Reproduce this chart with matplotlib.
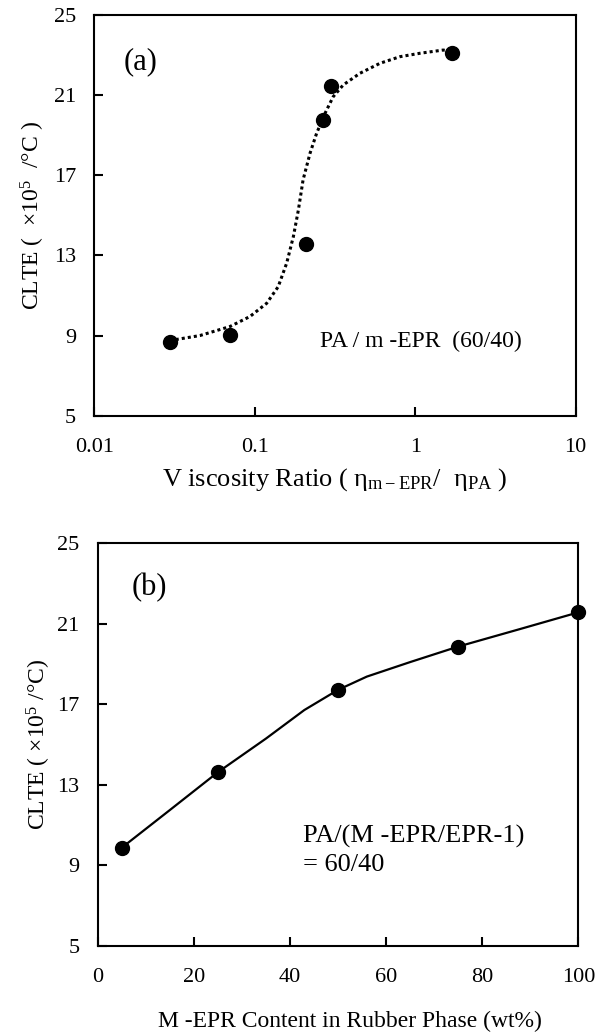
import matplotlib
matplotlib.use("Agg")
import matplotlib.pyplot as plt

plt.rcParams['font.family'] = ['Liberation Serif', 'DejaVu Serif']
plt.rcParams['mathtext.fontset'] = 'custom'
plt.rcParams['mathtext.rm'] = 'Liberation Serif'
plt.rcParams['mathtext.it'] = 'Liberation Serif:italic'

# (a) CLTE vs viscosity ratio
ratio_pts = [0.0295, 0.070, 0.210, 0.267, 0.299, 1.69]
clte_a_pts = [8.7, 9.05, 13.57, 19.76, 21.47, 23.1]
# dotted guide curve
ratio_curve = [0.0295, 0.0455, 0.070, 0.0933, 0.1186, 0.140, 0.158, 0.174,
               0.187, 0.200, 0.221, 0.243, 0.274, 0.308, 0.356, 0.452,
               0.603, 0.804, 1.07, 1.49, 1.69]
clte_a_curve = [8.75, 9.0, 9.45, 9.95, 10.61, 11.44, 12.61, 13.94,
                15.27, 16.77, 18.10, 19.10, 20.09, 20.92, 21.51, 22.09,
                22.59, 22.92, 23.09, 23.25, 23.2]

# (b) CLTE vs M-EPR content in rubber phase
content_pts = [5, 25, 50, 75, 100]
clte_b_pts = [9.88, 13.63, 17.72, 19.87, 21.57]
content_curve = [5, 15, 25, 35, 43, 50, 56, 65, 75, 88, 100]
clte_b_curve = [9.88, 11.75, 13.63, 15.3, 16.72, 17.72, 18.38, 19.1, 19.87, 20.75, 21.57]

y_ticks = [5, 9, 13, 17, 21, 25]

fig = plt.figure(figsize=(6.03, 10.35), dpi=100)
ax1 = fig.add_axes([94.3 / 603, 1 - 415.7 / 1035, 481.4 / 603, 400.7 / 1035])
ax2 = fig.add_axes([97.7 / 603, 1 - 946 / 1035, 480.6 / 603, 402.7 / 1035])


def style(ax):
    for s in ax.spines.values():
        s.set_linewidth(1.5)
    ax.tick_params(direction='in', length=6.5, width=1.5, labelsize=16,
                   top=False, right=False)
    ax.tick_params(axis='y', pad=13)
    ax.tick_params(axis='x', pad=16)
    ax.tick_params(which='minor', length=0)
    ax.set_ylim(5, 25)
    ax.set_yticks(y_ticks)


# panel (a)
ax1.plot(ratio_curve, clte_a_curve, color='black', linestyle=(0, (1, 1)), lw=2.2)
ax1.plot(ratio_pts, clte_a_pts, 'o', color='black', markersize=10, clip_on=False)
ax1.set_xscale('log')
ax1.set_xlim(0.01, 10)
ax1.set_xticks([0.01, 0.1, 1, 10])
ax1.set_xticklabels(['0.01', '0.1', '1', '10'])
style(ax1)
ax1.set_ylabel('CLTE (  ×10$^5$  /°C )', fontsize=17, labelpad=5)
ax1.set_xlabel('V iscosity Ratio ( η$_{\\mathrm{m-EPR}}$/  η$_{\\mathrm{PA}}$ )',
               fontsize=19, labelpad=7)
ax1.text(0.097, 0.883, '(a)', transform=ax1.transAxes, fontsize=22,
         ha='center', va='center')
ax1.text(0.469, 0.185, 'PA / m -EPR  (60/40)', transform=ax1.transAxes,
         fontsize=17, ha='left', va='center')

# panel (b)
ax2.plot(content_curve, clte_b_curve, color='black', lw=1.6)
ax2.plot(content_pts, clte_b_pts, 'o', color='black', markersize=10, clip_on=False)
ax2.set_xlim(0, 100)
ax2.set_xticks([0, 20, 40, 60, 80, 100])
style(ax2)
ax2.set_ylabel('CLTE ( ×10$^5$ /°C)', fontsize=17, labelpad=3)
ax2.set_xlabel('M -EPR Content in Rubber Phase (wt%)', fontsize=17)
ax2.xaxis.set_label_coords(0.525, -0.16)
ax2.text(0.107, 0.891, '(b)', transform=ax2.transAxes, fontsize=22,
         ha='center', va='center')
ax2.text(0.428, 0.271, 'PA/(M -EPR/EPR-1)', transform=ax2.transAxes,
         fontsize=19, ha='left', va='center')
ax2.text(0.428, 0.201, '= 60/40', transform=ax2.transAxes,
         fontsize=19, ha='left', va='center')

fig.savefig('out.png', dpi=100)
